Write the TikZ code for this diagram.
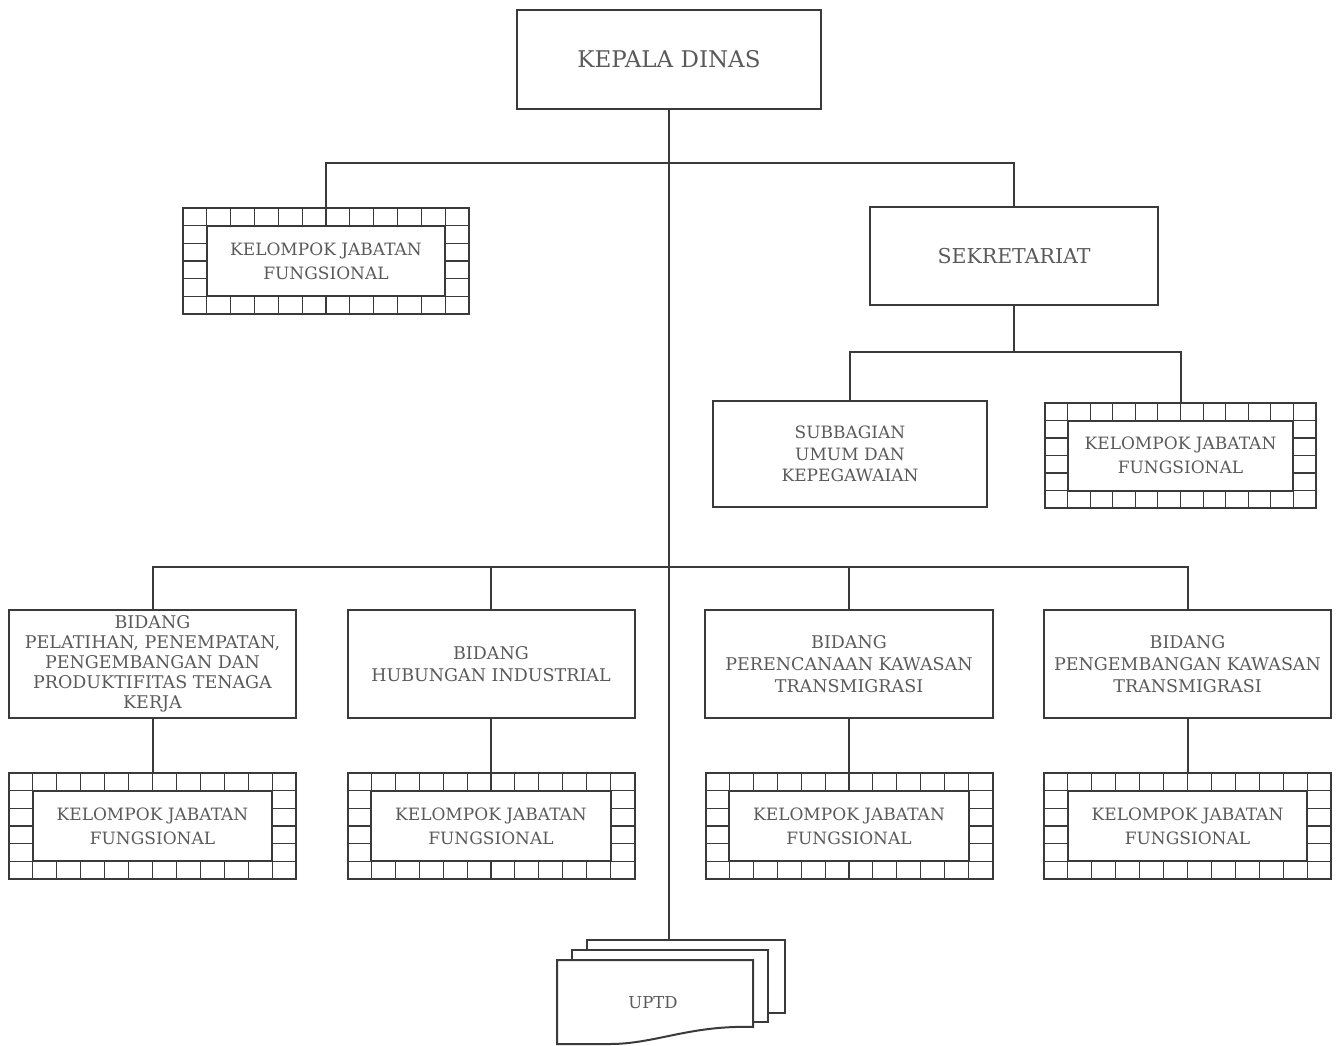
\documentclass[tikz,border=0pt]{standalone}
\usepackage{fontspec}
\setmainfont{DejaVu Serif}
\usetikzlibrary{calc}
\definecolor{ln}{HTML}{3A3A3A}
\definecolor{tx}{HTML}{5A5A5A}
\newcommand\hatchgrid[3]{%
  \foreach \i in {1,...,11} {
    \draw[grid] ($(#1.north west)+(\i*#2/12,0)$) -- ++(0,#3/6);
    \draw[grid] ($(#1.south west)+(\i*#2/12,0)$) -- ++(0,-#3/6);
  }
  \foreach \j in {1,...,5} {
    \draw[grid] ($(#1.north west)+(0,\j*#3/6)$) -- ++(#2/12,0);
    \draw[grid] ($(#1.north east)+(0,\j*#3/6)$) -- ++(-#2/12,0);
  }
  \draw[line] ($(#1.north west)+(#2/12,#3/6)$) rectangle ($(#1.south east)+(-#2/12,-#3/6)$);
}
\tikzset{
  line/.style={draw=ln, line width=2pt},
  grid/.style={draw=ln, line width=1.1pt},
  box/.style={line, rectangle, inner sep=0pt, outer sep=0pt, align=center, text=tx,
     font=\fontsize{17.5}{22}\selectfont},
  kjf/.style={box, minimum width=287pt, minimum height=106pt, font=\fontsize{17}{24}\selectfont},
  conn/.style={line},
}
\begin{document}
\begin{tikzpicture}[x=1pt, y=-1pt]
\useasboundingbox (0,0) rectangle (1336,1046);
% top
\node[box, minimum width=304pt, minimum height=99pt, font=\fontsize{23}{26}\selectfont] (kd) at (669,59.5) {KEPALA DINAS};
\node[kjf, minimum width=286pt] (kjf0) at (326,261) {KELOMPOK JABATAN\\FUNGSIONAL};
\hatchgrid{kjf0}{286}{106}
\node[box, minimum width=288pt, minimum height=98pt, font=\fontsize{20.5}{24}\selectfont] (sek) at (1014,256) {SEKRETARIAT};
\node[box, minimum width=274pt, minimum height=106pt, font=\fontsize{17}{21.5}\selectfont] (sub) at (850,454) {SUBBAGIAN\\UMUM DAN\\KEPEGAWAIAN};
\node[kjf, minimum width=271pt, minimum height=105pt] (kjfs) at (1180.5,455.5) {KELOMPOK JABATAN\\FUNGSIONAL};
\hatchgrid{kjfs}{271}{105}
% bidang
\node[box, minimum width=287pt, minimum height=108pt, font=\fontsize{17.5}{20}\selectfont] (bid1) at (152.5,664) {BIDANG\\PELATIHAN, PENEMPATAN,\\PENGEMBANGAN DAN\\PRODUKTIFITAS TENAGA\\KERJA};
\node[box, minimum width=287pt, minimum height=108pt] (bid2) at (491,664) {BIDANG\\HUBUNGAN INDUSTRIAL};
\node[box, minimum width=288pt, minimum height=108pt] (bid3) at (849,664) {BIDANG\\PERENCANAAN KAWASAN\\TRANSMIGRASI};
\node[box, minimum width=287pt, minimum height=108pt] (bid4) at (1187.5,664) {BIDANG\\PENGEMBANGAN KAWASAN\\TRANSMIGRASI};
\foreach \n/\x in {1/152.5,2/491,3/849,4/1187.5} {
  \node[kjf] (k\n) at (\x,826) {KELOMPOK JABATAN\\FUNGSIONAL};
  \hatchgrid{k\n}{287}{106}
}
% UPTD
\node[box, fill=white, minimum width=198pt, minimum height=73pt] (uptdback) at (686,976.5) {};
\node[box, fill=white, minimum width=196pt, minimum height=72pt] (uptdmid) at (670,986) {};
\filldraw[line, fill=white] (557,960) -- (753,960) -- (753,1027) .. controls (690,1025) and (655,1044) .. (610,1044) -- (557,1044) -- cycle;
\node[text=tx, font=\fontsize{16.5}{18}\selectfont] (uptd) at (653,1003) {UPTD};
% connectors
\coordinate (b1) at (669,163);
\coordinate (b2) at (1014,352);
\coordinate (b3) at (669,567);
\draw[conn] (kd.south) -- (kd.south |- uptdback.north);
\draw[conn] (kjf0.north) |- (b1) -| (sek.north);
\draw[conn] (sek.south) -- (b2);
\draw[conn] (sub.north) |- (b2) -| (kjfs.north);
\draw[conn] (bid1.north) |- (b3) -| (bid4.north);
\draw[conn] (bid2.north) -- (bid2.north |- b3);
\draw[conn] (bid3.north) -- (bid3.north |- b3);
\foreach \n in {1,2,3,4} { \draw[conn] (bid\n.south) -- (k\n.north); }
\end{tikzpicture}
\end{document}
